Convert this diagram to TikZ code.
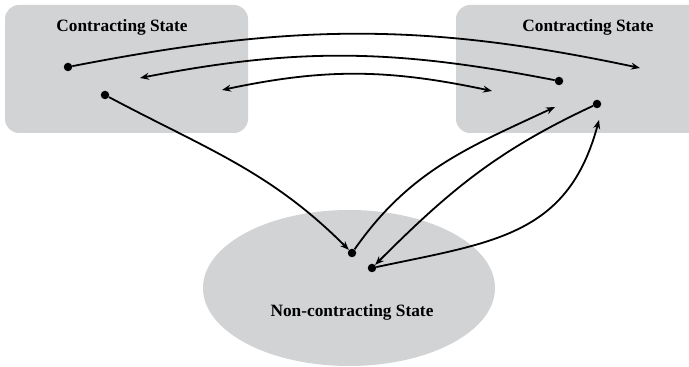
\documentclass[tikz,border=0pt]{standalone}
\usepackage{fontspec}
\setmainfont{Liberation Serif}
\usetikzlibrary{arrows.meta}
\definecolor{stategray}{RGB}{210,211,213}

\begin{document}
\begin{tikzpicture}
[x=1pt,y=1pt,
region/.style={fill=stategray,rounded corners=14pt},
dot/.style={circle,fill=black,inner sep=0pt,minimum size=8.5pt},
statetext/.style={font=\fontsize{17.3}{20}\selectfont\bfseries},
link/.style={line width=1.8pt,-{Stealth[length=9pt,width=7pt,inset=3pt]}},
twoway/.style={line width=1.8pt,{Stealth[length=9pt,width=7pt,inset=3pt]}-{Stealth[length=9pt,width=7pt,inset=3pt]}}]
\useasboundingbox (0,0) rectangle (689,367);
% the three states
\fill[region] (5,234) rectangle (248,362);
\fill[region] (456,234) rectangle (710,362);
\fill[stategray] (349,79) ellipse [x radius=146pt,y radius=78pt];
\node at (122,340) [statetext] (leftstate) {Contracting State};
\node at (588,340) [statetext] (rightstate) {Contracting State};
\node at (352,55) [statetext] (nonstate) {Non-contracting State};
% dots
\node at (68,300) [dot] (l1){};
\node at (105,272) [dot] (l2){};
\node at (559,286) [dot] (r1){};
\node at (597,263) [dot] (r2){};
\node at (352,114) [dot] (n1){};
\node at (372,99) [dot] (n2){};
% free ends
\coordinate (a1) at (640,299);
\coordinate (a2) at (140,289);
\coordinate (a3) at (222,277);
\coordinate (b3) at (492,276);
\coordinate (a5) at (555,260);
\coordinate (a7) at (599,247);
\draw [link] (l1) to[out=11,in=168] (a1);
\draw [link] (r1) to[out=169,in=11] (a2);
\draw [twoway] (a3) to[out=12,in=168] (b3);
\draw [link] (l2) to[out=-28,in=135] (n1);
\draw [link] (n1) to[out=55,in=-155] (a5);
\draw [link] (r2) to[out=205,in=45] (n2);
\draw [link] (n2) to[out=12,in=-105,looseness=1.15] (a7);
\end{tikzpicture}
\end{document}
